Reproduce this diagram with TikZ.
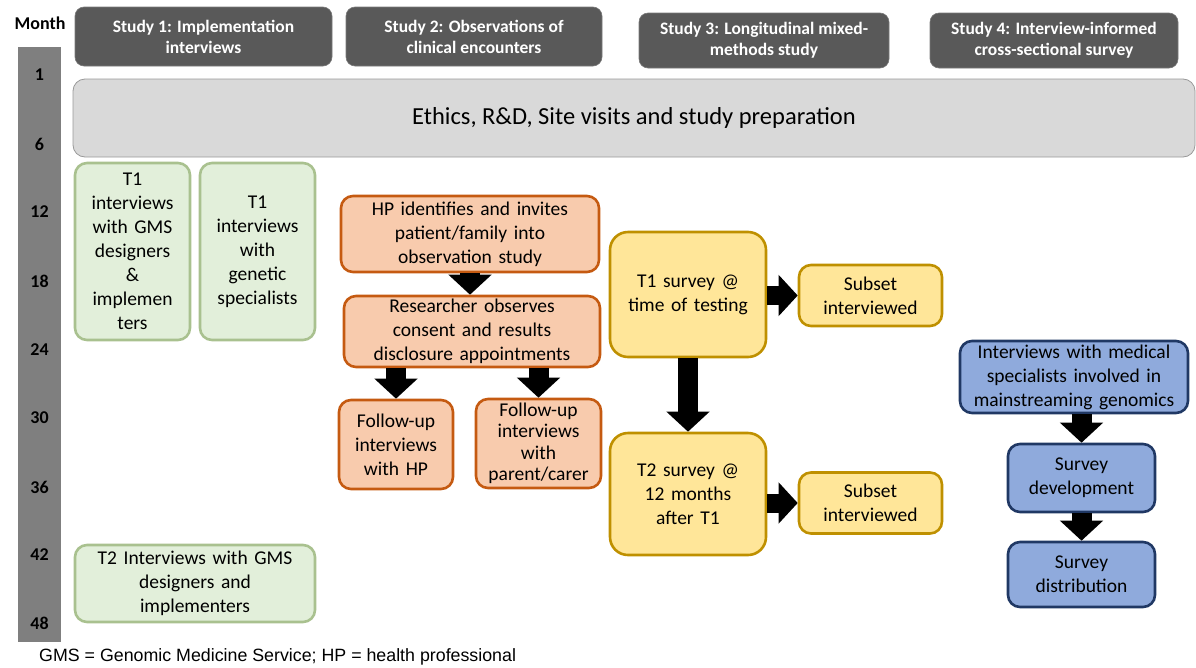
\documentclass[tikz,border=0pt]{standalone}
\usepackage{fontspec}
\setmainfont{Carlito}
\newfontfamily\boxfont{Carlito}[WordSpace=1.5]
\newfontfamily\arialfont{Liberation Sans}
\usetikzlibrary{arrows.meta}
\definecolor{hdrfill}{HTML}{595959}
\definecolor{barfill}{HTML}{7F7F7F}
\definecolor{ethfill}{HTML}{D9D9D9}
\definecolor{ethline}{HTML}{999999}
\definecolor{grnfill}{HTML}{E2EFDA}
\definecolor{grnline}{HTML}{A9C18F}
\definecolor{orgfill}{HTML}{F8CBAD}
\definecolor{orgline}{HTML}{C55A11}
\definecolor{yelfill}{HTML}{FFE699}
\definecolor{yelline}{HTML}{BF9000}
\definecolor{blufill}{HTML}{8FAADC}
\definecolor{bluline}{HTML}{203864}
\tikzset{
  hdr/.style={draw=hdrfill!80!white, fill=hdrfill, text=white, rounded corners=9pt, align=center,
    font=\bfseries\fontsize{17.5}{21}\selectfont, inner sep=1pt, line width=0.6pt},
  bx/.style={rounded corners=12pt, align=center, font=\boxfont\fontsize{19.5}{24}\selectfont, inner sep=1pt, line width=2.6pt},
  grn/.style={bx, draw=grnline, fill=grnfill},
  org/.style={bx, draw=orgline, fill=orgfill},
  yel/.style={bx, draw=yelline, fill=yelfill},
  blu/.style={bx, draw=bluline, fill=blufill},
  blk/.style={line width=20pt, draw=black, -{Triangle[width=42pt,length=20pt]}},
  blkh/.style={line width=19pt, draw=black, -{Triangle[width=40pt,length=19pt]}},
  mon/.style={font=\bfseries\fontsize{18}{20}\selectfont, inner sep=0pt},
}
\begin{document}
\begin{tikzpicture}[x=1pt,y=-1pt]
\useasboundingbox (0,0) rectangle (1196,667);
\clip (0,0) rectangle (1196,667);
% month bar
\node[mon] (month) at (40,23) {Month};
\node[fill=barfill, minimum width=43pt, minimum height=595pt, inner sep=0pt] (bar) at (39.5,344.5) {};
\node[mon] (m1) at (39.5,75) {1};
\node[mon] (m6) at (39.5,144) {6};
\node[mon] (m12) at (39.5,212) {12};
\node[mon] (m18) at (39.5,281) {18};
\node[mon] (m24) at (39.5,350) {24};
\node[mon] (m30) at (39.5,418) {30};
\node[mon] (m36) at (39.5,487) {36};
\node[mon] (m42) at (39.5,555) {42};
\node[mon] (m48) at (39.5,623) {48};
% headers
\node[hdr, minimum width=257pt, minimum height=59pt] (h1) at (203.5,36.5) {Study 1: Implementation\\interviews};
\node[hdr, minimum width=256pt, minimum height=59pt] (h2) at (474,36.5) {Study 2: Observations of\\clinical encounters};
\node[hdr, minimum width=250pt, minimum height=55pt] (h3) at (764,40.5) {Study 3: Longitudinal mixed-\\methods study};
\node[hdr, minimum width=248pt, minimum height=55pt] (h4) at (1054,40.5) {Study 4: Interview-informed\\cross-sectional survey};
% ethics
\node[draw=ethline, fill=ethfill, rounded corners=12pt, line width=0.8pt, minimum width=1122pt, minimum height=78pt,
  font=\fontsize{24.5}{28}\selectfont] (eth) at (634,118) {Ethics, R\&D, Site visits and study preparation};
% study 1
\node[grn, minimum width=115pt, minimum height=177pt] (g1) at (132.5,251.5) {T1\\interviews\\with GMS\\designers\\\&\\implemen\\ters};
\node[grn, minimum width=115pt, minimum height=177pt] (g2) at (257.5,251.5) {T1\\interviews\\with\\genetic\\specialists};
\node[grn, minimum width=240pt, minimum height=77pt] (g3) at (195,583.5) {T2 Interviews with GMS\\designers and\\implementers};
% study 2
\node[org, minimum width=258pt, minimum height=76pt] (o1) at (470,234) {HP identifies and invites\\patient/family into\\observation study};
\node[org, minimum width=256pt, minimum height=71pt] (o2) at (472,331.5) {Researcher observes\\consent and results\\disclosure appointments};
\node[org, minimum width=114pt, minimum height=89pt] (o3) at (396,444.5) {Follow-up\\interviews\\with HP};
\node[org, minimum width=125pt, minimum height=89pt, font=\boxfont\fontsize{19.5}{21.5}\selectfont] (o4) at (538.5,443.5) {Follow-up\\interviews\\with\\parent/carer};
% study 3
\node[yel, rounded corners=18pt, minimum width=156pt, minimum height=125pt] (y1) at (688,294.5) {T1 survey @\\time of testing};
\node[yel, minimum width=143pt, minimum height=61pt] (s1) at (870.5,295.5) {Subset\\interviewed};
\node[yel, rounded corners=18pt, minimum width=156pt, minimum height=122pt] (y2) at (688,494) {T2 survey @\\12 months\\after T1};
\node[yel, minimum width=143pt, minimum height=61pt] (s2) at (870.5,503) {Subset\\interviewed};
% study 4
\node[blu, minimum width=228pt, minimum height=72pt] (b1) at (1074,377) {Interviews with medical\\specialists involved in\\mainstreaming genomics};
\node[blu, minimum width=147pt, minimum height=68pt] (b2) at (1081.5,478) {Survey\\development};
\node[blu, minimum width=147pt, minimum height=65pt] (b3) at (1081.5,574.5) {Survey\\distribution};
% arrows
\draw[blk] (o1.south) -- (o1.south |- o2.north);
\draw[blk] (o3.north |- o2.south) -- (o3.north);
\draw[blk] (o4.north |- o2.south) -- (o4.north);
\draw[blk] (y1.south) -- (y2.north);
\draw[blkh] (y1.east |- s1.west) -- (s1.west);
\draw[blkh] (y2.east |- s2.west) -- (s2.west);
\draw[blk] (b2.north |- b1.south) -- (b2.north);
\draw[blk] (b2.south) -- (b3.north);
% footer
\node[anchor=west, font=\arialfont\fontsize{17.8}{20}\selectfont, inner sep=0pt] (foot) at (39,657) {GMS = Genomic Medicine Service; HP = health professional};
\end{tikzpicture}
\end{document}
